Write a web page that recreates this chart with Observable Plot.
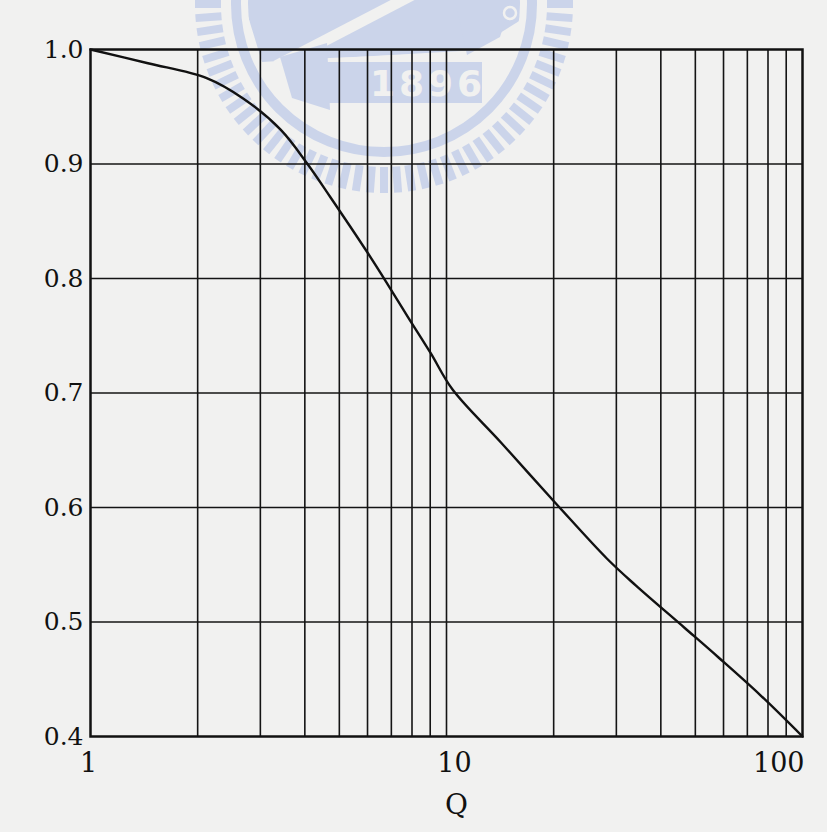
<!DOCTYPE html>
<html>
<head>
<meta charset="utf-8">
<script src="https://cdn.jsdelivr.net/npm/d3@7"></script>
<script src="https://cdn.jsdelivr.net/npm/@observablehq/plot@0.6"></script>
<style>
  html, body { margin: 0; padding: 0; background: #f1f1f0; }
  #chart svg { display: block; }
</style>
</head>
<body>
<div id="chart"></div>
<script>
// Curve: ratio on the vertical axis against Q on the log axis
const qValues = [1, 1.45, 2.12, 2.69, 3.42, 4.07, 4.72, 5.96, 6.74, 7.77, 9.02, 10.4, 14.2, 20.5, 28.3, 34, 46.6, 58.1, 76.2, 100];
const ratioValues = [1.000, 0.988, 0.975, 0.957, 0.930, 0.900, 0.871, 0.824, 0.798, 0.767, 0.735, 0.703, 0.657, 0.602, 0.555, 0.532, 0.495, 0.469, 0.436, 0.400];

// Axis ticks and grid rulings
const xFirstLabel = [1];
const xMidLabel = [10];
const xEndLabel = [100];
const xGrid = [2, 3, 4, 5, 6, 7, 8, 9, 10, 20, 30, 40, 50, 60, 70, 80, 90];
const yTicks = [0.4, 0.5, 0.6, 0.7, 0.8, 0.9, 1.0];
const yGrid = [0.5, 0.6, 0.7, 0.8, 0.9];
const xTitle = "Q";
const sealText = "1896";

const curve = qValues.map((q, i) => ({q, r: ratioValues[i]}));

const serif = "'DejaVu Serif', 'Liberation Serif', serif";
const paper = "#f1f1f0";
const ink = "#111";

// Faint seal printed behind the top of the chart
function seal() {
  const ns = "http://www.w3.org/2000/svg";
  const g = document.createElementNS(ns, "g");
  const fill = "#cbd4ea";
  const cx = 384, cy = 4;
  const make = (tag, attrs, parent = g) => {
    const el = document.createElementNS(ns, tag);
    for (const [k, v] of Object.entries(attrs)) el.setAttribute(k, v);
    parent.appendChild(el);
    return el;
  };
  // toothed outer ring
  const step = 360 / 84;
  for (let a = 0; a < 360; a += step) {
    const t = (a * Math.PI) / 180;
    const r0 = 163, r1 = 189;
    make("line", {
      x1: cx + r0 * Math.cos(t), y1: cy + r0 * Math.sin(t),
      x2: cx + r1 * Math.cos(t), y2: cy + r1 * Math.sin(t),
      stroke: fill, "stroke-width": 8
    });
  }
  // solid inner band
  make("circle", {cx, cy, r: 148, fill: "none", stroke: fill, "stroke-width": 10});
  // emblem: upper block with a diagonal light stripe
  const defs = make("defs", {});
  const clip = make("clipPath", {id: "seal-inner"}, defs);
  make("circle", {cx, cy, r: 136}, clip);
  const inner = make("g", {"clip-path": "url(#seal-inner)"});
  make("path", {d: "M240,-10 L540,-10 L540,8 L470,52 L330,58 L262,62 Z", fill}, inner);
  make("line", {x1: 276, y1: 66, x2: 418, y2: -8, stroke: paper, "stroke-width": 11}, inner);
  make("line", {x1: 330, y1: 60, x2: 470, y2: 52, stroke: paper, "stroke-width": 3}, inner);
  make("path", {d: "M280,57 L327,43 L330,110 L292,98 Z", fill}, inner);
  make("path", {d: "M453,-10 L515,-10 L500,37 L467,55 Z", fill}, inner);
  make("circle", {cx: 510, cy: 13, r: 6, fill: "none", stroke: paper, "stroke-width": 2.5}, inner);
  // label block
  make("rect", {x: 327, y: 62, width: 155, height: 41, fill});
  const t = make("text", {
    x: 428, y: 83, "text-anchor": "middle", "dominant-baseline": "central",
    fill: paper, "font-family": "'DejaVu Sans', sans-serif",
    "font-weight": "bold", "font-size": 36, "letter-spacing": 4
  });
  t.textContent = sealText;
  return g;
}

const xLabelStyle = {tickSize: 0, tickPadding: 16, tickFormat: d => String(d), fontSize: 27, fill: ink, label: null};

const chart = Plot.plot({
  width: 827,
  height: 832,
  marginLeft: 90,
  marginRight: 25,
  marginTop: 49,
  marginBottom: 96,
  style: {background: paper, fontFamily: serif, color: ink},
  x: {type: "log", domain: [1, 100]},
  y: {domain: [0.4, 1.0]},
  marks: [
    () => seal(),
    Plot.gridX(xGrid, {stroke: "#141414", strokeOpacity: 1, strokeWidth: 1.6}),
    Plot.gridY(yGrid, {stroke: "#141414", strokeOpacity: 1, strokeWidth: 1.6}),
    Plot.frame({stroke: ink, strokeWidth: 2.5}),
    Plot.line(curve, {x: "q", y: "r", curve: "catmull-rom", stroke: ink, strokeWidth: 2.4}),
    Plot.axisY(yTicks, {
      tickSize: 0, tickPadding: 7, tickFormat: d3.format(".1f"),
      fontSize: 25, fill: ink, label: null
    }),
    Plot.axisX(xFirstLabel, {...xLabelStyle, dx: -2}),
    Plot.axisX(xMidLabel, {...xLabelStyle, dx: 8}),
    Plot.axisX(xEndLabel, {...xLabelStyle, textAnchor: "end", dx: 2}),
    Plot.text([xTitle], {
      text: d => d, frameAnchor: "bottom", dy: 77, dx: 10,
      fontSize: 28, fill: ink
    })
  ]
});

document.getElementById("chart").appendChild(chart);
</script>
</body>
</html>
